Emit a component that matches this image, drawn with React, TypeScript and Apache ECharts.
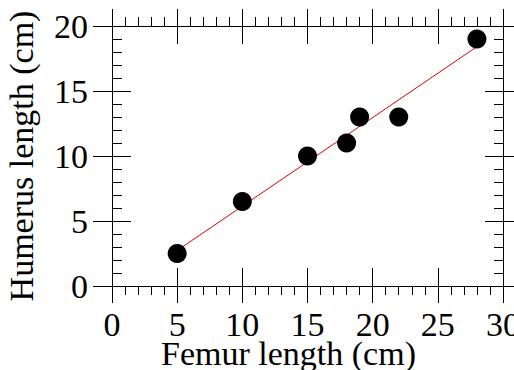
import React, { useEffect, useRef } from "react";
import * as echarts from "echarts";

const femur = [5, 10, 15, 18, 19, 22, 28];
const humerus = [2.5, 6.5, 10, 11, 13, 13, 19];
const fitX = [5, 28];
const fitY = [2.73, 18.41];
const xTicks = { min: 0, max: 30, interval: 5 };
const yTicks = { min: 0, max: 20, interval: 5 };

const FONT = "'Liberation Serif', 'Times New Roman', serif";
const FS = 34;

export default function App() {
  const ref = useRef<HTMLDivElement>(null);
  useEffect(() => {
    document.body.style.margin = "0";
    const chart = echarts.init(ref.current!, null, { renderer: "svg" });
    const line = { lineStyle: { color: "#000", width: 1 } };
    const baseX = (position: string, extra: any) => ({
      type: "value",
      position,
      min: xTicks.min,
      max: xTicks.max,
      interval: xTicks.interval,
      splitLine: { show: false },
      axisLine: { show: false, onZero: false, ...line },
      axisLabel: { show: false },
      minorTick: { show: false },
      ...extra,
    });
    const baseY = (position: string, extra: any) => ({
      type: "value",
      position,
      min: yTicks.min,
      max: yTicks.max,
      interval: yTicks.interval,
      splitLine: { show: false },
      axisLine: { show: false, onZero: false, ...line },
      axisLabel: { show: false },
      minorTick: { show: false },
      ...extra,
    });
    const option: any = {
      animation: false,
      grid: { left: 112, top: 26, right: 11, bottom: 84, containLabel: false, outerBoundsMode: "none" },
      xAxis: [
        baseX("bottom", {
          axisLine: { show: true, onZero: false, ...line },
          axisTick: { show: true, inside: false, length: 17, ...line },
          minorTick: { show: true, splitNumber: 5, length: 9, ...line },
          axisLabel: { show: true, fontSize: FS, lineHeight: 28, fontFamily: FONT, color: "#000", margin: 24 },
          name: "Femur length (cm)",
          nameLocation: "middle",
          nameGap: 53,
          nameMoveOverlap: false,
          nameTextStyle: { fontSize: FS, lineHeight: 28, fontFamily: FONT, color: "#000", padding: [0, 38, 0, 0] },
        }),
        baseX("bottom", { axisTick: { show: true, inside: true, length: 18, ...line } }),
        baseX("top", {
          axisLine: { show: true, onZero: false, ...line },
          axisTick: { show: true, inside: false, length: 17, ...line },
          minorTick: { show: true, splitNumber: 5, length: 9, ...line },
        }),
        baseX("top", { axisTick: { show: true, inside: true, length: 18, ...line } }),
      ],
      yAxis: [
        baseY("left", {
          axisLine: { show: true, onZero: false, ...line },
          axisTick: { show: true, inside: true, length: 19, ...line },
          minorTick: { show: true, splitNumber: 5, length: 10, ...line },
          axisLabel: { show: true, fontSize: FS, fontFamily: FONT, color: "#000", margin: 24 },
          name: "Humerus length (cm)",
          nameLocation: "middle",
          nameGap: 74,
          nameMoveOverlap: false,
          nameTextStyle: { fontSize: FS, fontFamily: FONT, color: "#000" },
        }),
        baseY("left", { axisTick: { show: true, inside: false, length: 19, ...line } }),
        baseY("right", {
          axisLine: { show: true, onZero: false, ...line },
          axisTick: { show: true, inside: true, length: 18, ...line },
          minorTick: { show: true, splitNumber: 5, length: 9, ...line },
        }),
        baseY("right", { axisTick: { show: true, inside: false, length: 19, ...line } }),
      ],
      series: [
        {
          type: "line",
          xAxisIndex: 0,
          yAxisIndex: 0,
          data: fitX.map((x, i) => [x, fitY[i]]),
          symbol: "none",
          lineStyle: { color: "#e00000", width: 1 },
          z: 2,
        },
        {
          type: "scatter",
          xAxisIndex: 0,
          yAxisIndex: 0,
          data: femur.map((x, i) => [x, humerus[i]]),
          symbol: "circle",
          symbolSize: 19,
          itemStyle: { color: "#000", opacity: 1 },
          z: 3,
        },
      ],
    };
    chart.setOption(option);
    return () => chart.dispose();
  }, []);
  return <div ref={ref} style={{ width: 514, height: 370 }} />;
}
